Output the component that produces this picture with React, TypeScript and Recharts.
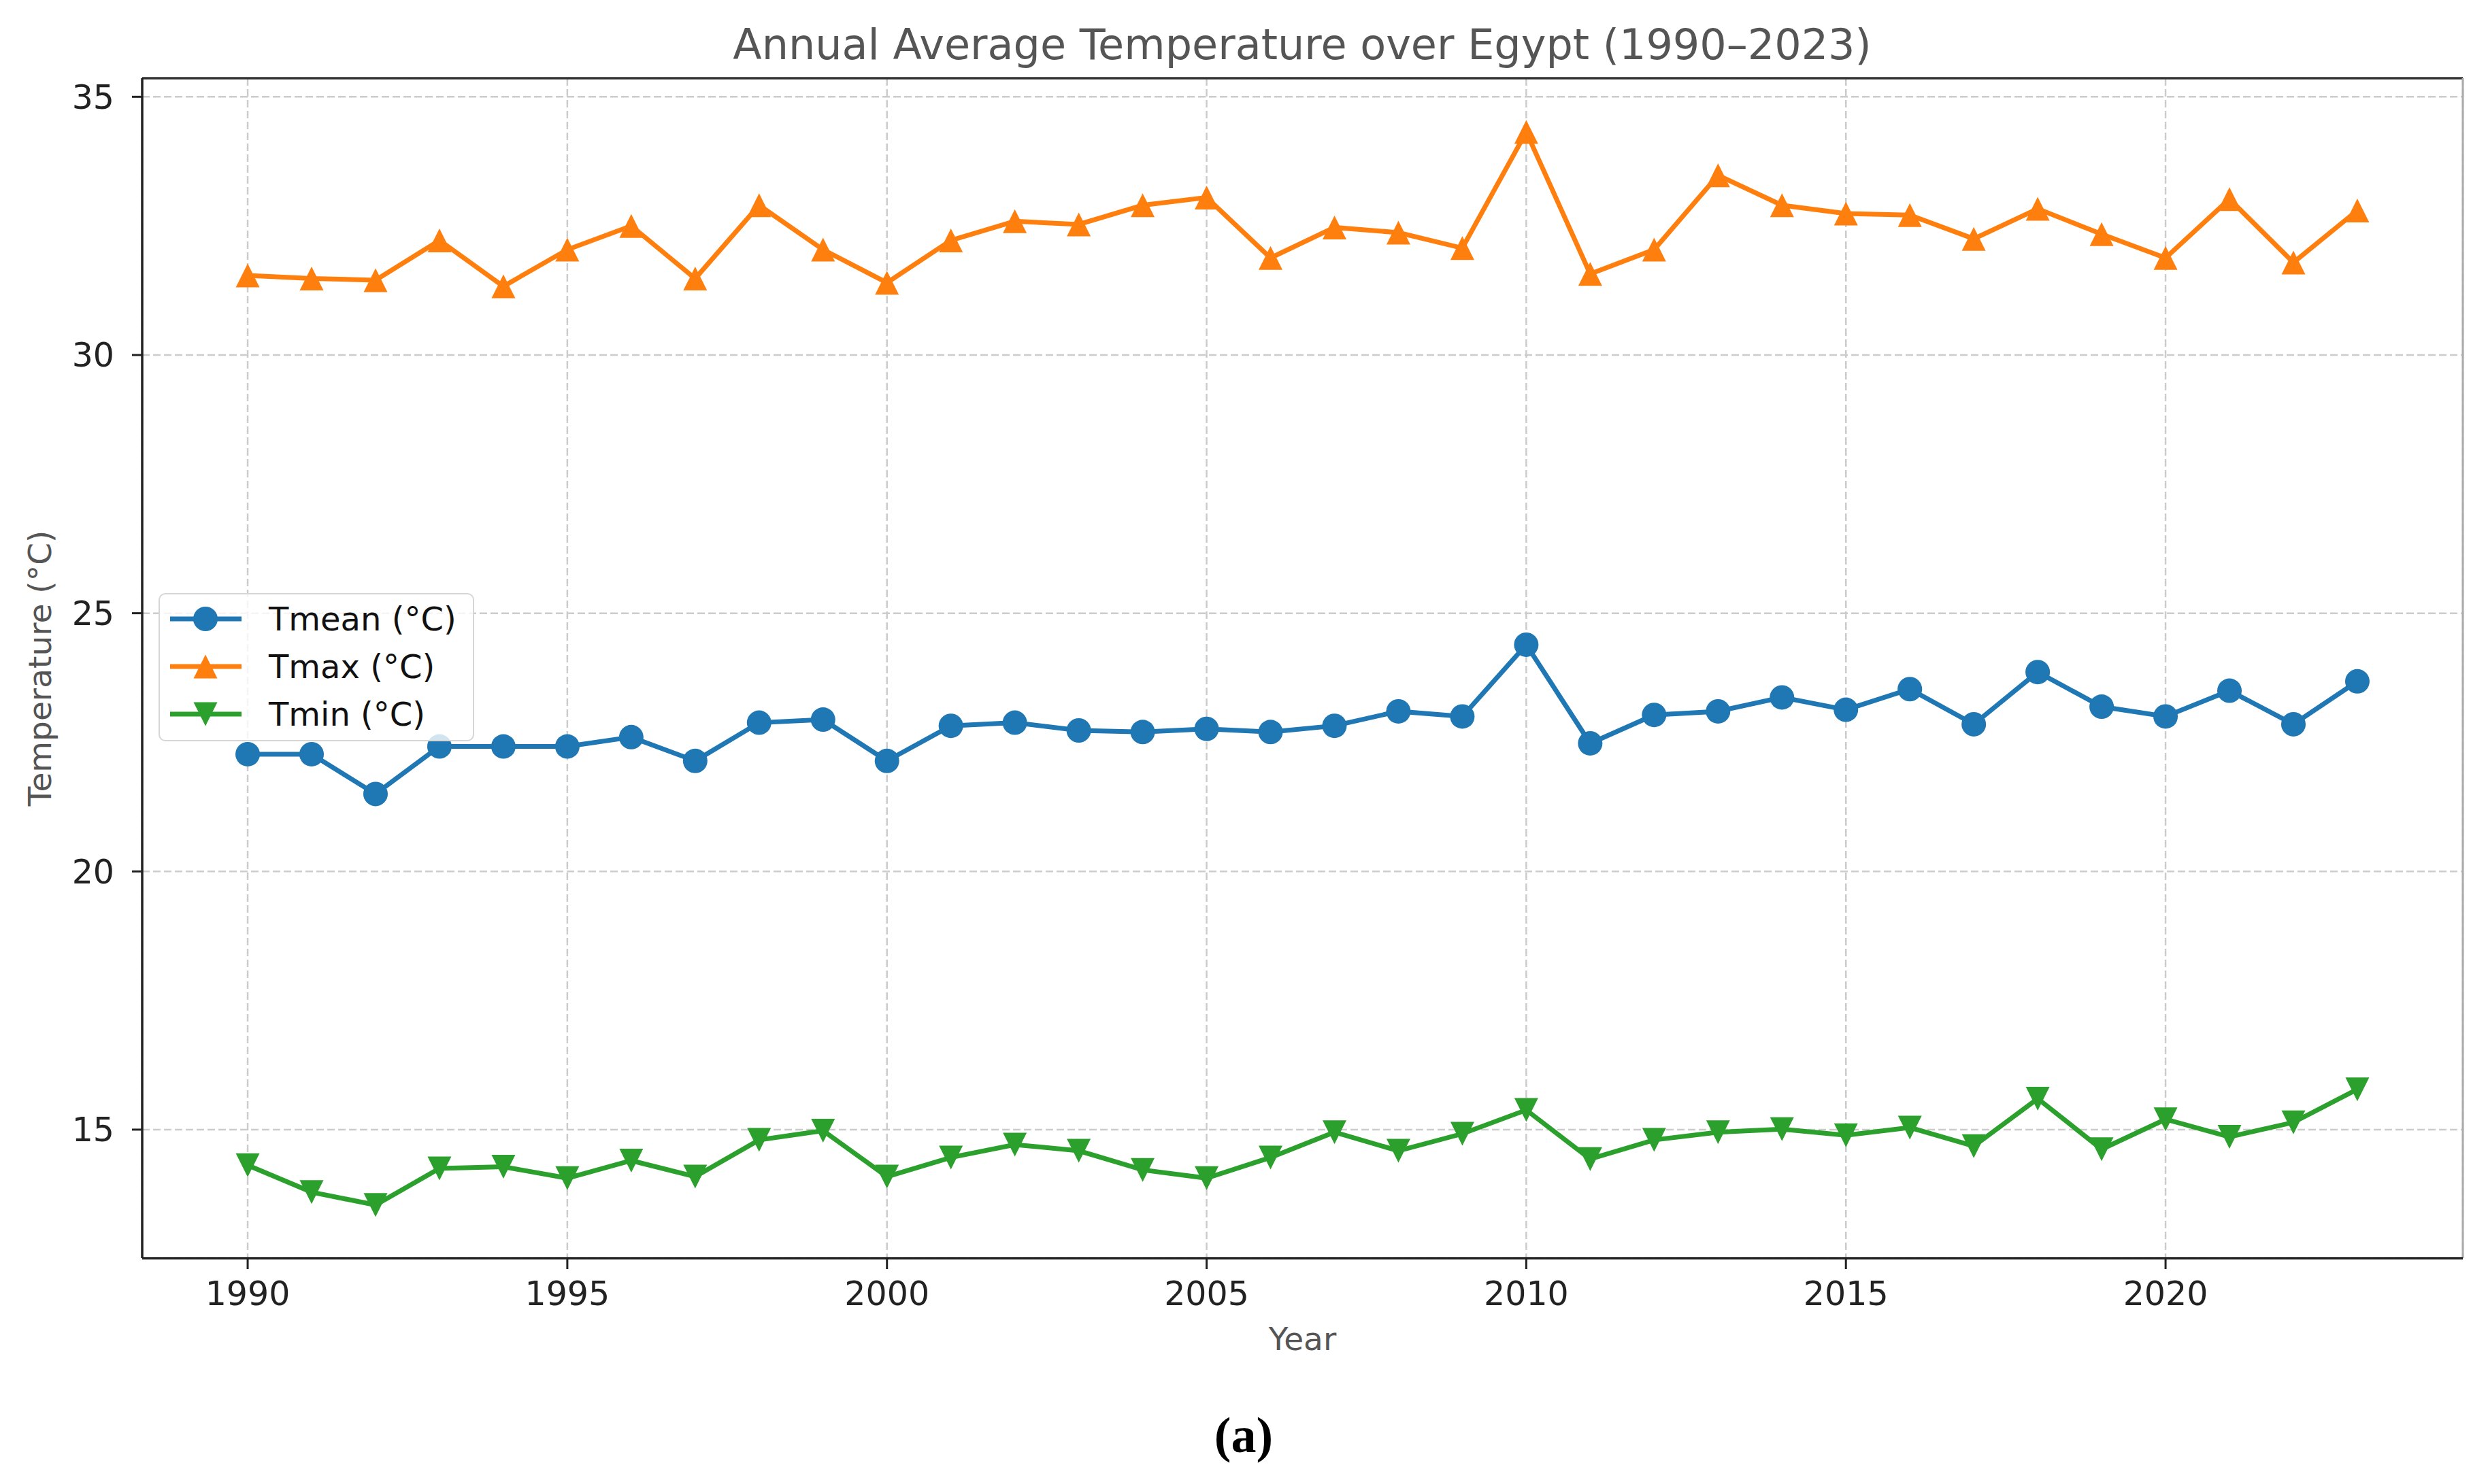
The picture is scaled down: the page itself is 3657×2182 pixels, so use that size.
import React from 'react';
import { LineChart, Line, XAxis, YAxis, CartesianGrid, ReferenceLine } from 'recharts';

const years = [1990, 1991, 1992, 1993, 1994, 1995, 1996, 1997, 1998, 1999, 2000, 2001, 2002, 2003, 2004, 2005, 2006, 2007, 2008, 2009, 2010, 2011, 2012, 2013, 2014, 2015, 2016, 2017, 2018, 2019, 2020, 2021, 2022, 2023];

const tmean = [22.27, 22.27, 21.5, 22.42, 22.42, 22.42, 22.6, 22.14, 22.88, 22.94, 22.14, 22.82, 22.88, 22.73, 22.7, 22.76, 22.7, 22.82, 23.1, 23.0, 24.39, 22.48, 23.03, 23.1, 23.37, 23.13, 23.53, 22.85, 23.86, 23.19, 23.0, 23.5, 22.85, 23.68];

const tmax = [31.54, 31.48, 31.45, 32.22, 31.33, 32.04, 32.5, 31.48, 32.9, 32.04, 31.4, 32.22, 32.59, 32.53, 32.9, 33.05, 31.88, 32.47, 32.37, 32.07, 34.32, 31.57, 32.04, 33.48, 32.9, 32.74, 32.71, 32.25, 32.83, 32.34, 31.88, 33.02, 31.79, 32.8];

const tmin = [14.31, 13.79, 13.54, 14.25, 14.28, 14.06, 14.4, 14.09, 14.8, 14.98, 14.09, 14.46, 14.71, 14.59, 14.22, 14.06, 14.46, 14.95, 14.59, 14.92, 15.38, 14.43, 14.8, 14.95, 15.01, 14.89, 15.04, 14.68, 15.6, 14.62, 15.2, 14.86, 15.14, 15.78];

const xTicks = [1990, 1995, 2000, 2005, 2010, 2015, 2020];
const yTicks = [15, 20, 25, 30, 35];
const xDomain = [1988.35, 2024.65];
const yDomain = [12.51, 35.36];

const seriesNames = ['Tmean (°C)', 'Tmax (°C)', 'Tmin (°C)'];
const seriesColors = ['#1f77b4', '#ff7f0e', '#2ca02c'];

const data = years.map((y, i) => ({ year: y, tmean: tmean[i], tmax: tmax[i], tmin: tmin[i] }));

const FONT = "'DejaVu Sans', sans-serif";
const MS = 18;

const markerShape = (kind: string, cx: number, cy: number, color: string, key?: string) => {
  if (kind === 'circle') return <circle key={key} cx={cx} cy={cy} r={MS} fill={color} />;
  const s = 17.5;
  if (kind === 'up')
    return <polygon key={key} points={`${cx},${cy - s} ${cx - s},${cy + s} ${cx + s},${cy + s}`} fill={color} />;
  return <polygon key={key} points={`${cx},${cy + s} ${cx - s},${cy - s} ${cx + s},${cy - s}`} fill={color} />;
};

const makeDot = (kind: string, color: string) => (props: any) => {
  const { cx, cy, index } = props;
  if (cx == null || cy == null) return <g key={`e${kind}${index}`} />;
  return markerShape(kind, cx, cy, color, `${kind}${index}`);
};

const kinds = ['circle', 'up', 'down'];

export default function App() {
  return (
    <div style={{ position: 'absolute', left: 0, top: 0, width: 3657, height: 2182, background: '#fff' }}>
      <LineChart
        width={3657}
        height={2182}
        data={data}
        margin={{ top: 115, right: 37, left: 89, bottom: 232 }}
      >
        <CartesianGrid stroke="#cccccc" strokeWidth={2.5} strokeDasharray="11 5" />
        <XAxis
          dataKey="year"
          type="number"
          domain={xDomain}
          ticks={xTicks}
          allowDataOverflow
          height={100}
          tickSize={16}
          tickMargin={18}
          axisLine={{ stroke: '#222', strokeWidth: 3.5 }}
          tickLine={{ stroke: '#222', strokeWidth: 3 }}
          tick={{ fontSize: 49, fill: '#222', fontFamily: FONT }}
          label={{ value: 'Year', position: 'bottom', offset: 2, fontSize: 47, fill: '#555', fontFamily: FONT }}
        />
        <YAxis
          type="number"
          domain={yDomain}
          ticks={yTicks}
          allowDataOverflow
          width={120}
          tickSize={15}
          tickMargin={26}
          axisLine={{ stroke: '#222', strokeWidth: 3.5 }}
          tickLine={{ stroke: '#222', strokeWidth: 3 }}
          tick={{ fontSize: 49, fill: '#222', fontFamily: FONT }}
          label={{
            value: 'Temperature (°C)',
            angle: -90,
            position: 'left',
            offset: 31,
            fontSize: 47,
            fill: '#555',
            fontFamily: FONT,
            style: { textAnchor: 'middle' },
          }}
        />
        <ReferenceLine y={yDomain[1]} stroke="#333" strokeWidth={3.5} ifOverflow="visible" />
        <ReferenceLine x={xDomain[1]} stroke="#aaa" strokeWidth={3} ifOverflow="visible" />
        <Line
          type="linear"
          dataKey="tmean"
          name={seriesNames[0]}
          stroke={seriesColors[0]}
          strokeWidth={7}
          dot={makeDot('circle', seriesColors[0])}
          activeDot={false}
          isAnimationActive={false}
        />
        <Line
          type="linear"
          dataKey="tmax"
          name={seriesNames[1]}
          stroke={seriesColors[1]}
          strokeWidth={7}
          dot={makeDot('up', seriesColors[1])}
          activeDot={false}
          isAnimationActive={false}
        />
        <Line
          type="linear"
          dataKey="tmin"
          name={seriesNames[2]}
          stroke={seriesColors[2]}
          strokeWidth={7}
          dot={makeDot('down', seriesColors[2])}
          activeDot={false}
          isAnimationActive={false}
        />
      </LineChart>

      <div
        style={{
          position: 'absolute',
          left: 914,
          width: 2000,
          top: 30,
          lineHeight: '72px',
          textAlign: 'center',
          fontFamily: FONT,
          fontSize: 62,
          color: '#555',
          whiteSpace: 'nowrap',
        }}
      >
        Annual Average Temperature over Egypt (1990–2023)
      </div>

      <div
        style={{
          position: 'absolute',
          left: 233,
          top: 872,
          width: 464,
          height: 218,
          boxSizing: 'border-box',
          border: '2.5px solid #d6d6d6',
          borderRadius: 10,
          background: 'rgba(255,255,255,0.8)',
          fontFamily: FONT,
        }}
      >
        {seriesNames.map((name, i) => (
          <div
            key={name}
            style={{ position: 'absolute', left: 0, top: 36 + i * 70 - 35, height: 70, width: 460, display: 'flex', alignItems: 'center' }}
          >
            <svg width={105} height={70} style={{ marginLeft: 15, flex: 'none' }}>
              <line x1={0} y1={35} x2={105} y2={35} stroke={seriesColors[i]} strokeWidth={7} />
              {markerShape(kinds[i], 52, 35, seriesColors[i])}
            </svg>
            <span style={{ marginLeft: 40, fontSize: 48, color: '#111', whiteSpace: 'nowrap' }}>{name}</span>
          </div>
        ))}
      </div>

      <div
        style={{
          position: 'absolute',
          left: 1728,
          width: 200,
          top: 2070,
          lineHeight: '80px',
          textAlign: 'center',
          fontFamily: "'Liberation Serif', serif",
          fontSize: 74,
          fontWeight: 'bold',
          color: '#000',
        }}
      >
        (a)
      </div>
    </div>
  );
}
